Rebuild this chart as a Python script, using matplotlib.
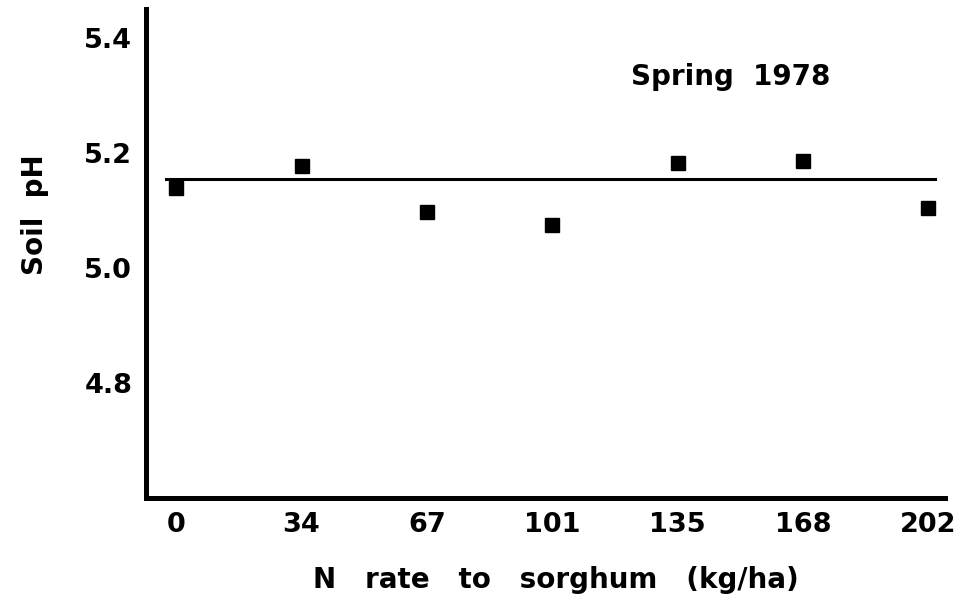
import matplotlib
matplotlib.use('Agg')
import matplotlib.pyplot as plt

n_rates = ['0', '34', '67', '101', '135', '168', '202']
soil_ph = [5.139, 5.177, 5.098, 5.075, 5.183, 5.185, 5.104]
mean_ph = 5.154
y_ticks = [4.8, 5.0, 5.2, 5.4]

plt.rcParams['font.family'] = 'DejaVu Sans'
plt.rcParams['font.weight'] = 'bold'

fig = plt.figure(figsize=(9.61, 6.05), dpi=100)
ax = fig.add_axes([0.152, 0.177, 0.831, 0.808])

xpos = list(range(len(n_rates)))
ax.plot(xpos, soil_ph, linestyle='none', marker='s', markersize=9.5, color='black')
ax.plot([-0.08, 6.05], [mean_ph, mean_ph], color='black', linewidth=2.2)

ax.set_xlim(-0.24, 6.13)
ax.set_ylim(4.6, 5.45)
ax.set_xticks(xpos)
ax.set_xticklabels(n_rates)
ax.set_yticks(y_ticks)
ax.set_yticklabels([f'{v:.1f}' for v in y_ticks])
ax.tick_params(length=0, labelsize=19.5, pad=10)

for side in ['top', 'right']:
    ax.spines[side].set_visible(False)
for side in ['left', 'bottom']:
    ax.spines[side].set_linewidth(3.6)

# axis titles placed in figure coords to match the scan
fig.text(0.578, 0.041, 'N   rate   to   sorghum   (kg/ha)', fontsize=20,
         fontweight='bold', ha='center', va='center')
fig.text(0.036, 0.645, 'Soil  pH', fontsize=20, fontweight='bold',
         rotation=90, ha='center', va='center')
ax.text(4.42, 5.332, 'Spring  1978', fontsize=20, fontweight='bold', ha='center', va='center')

fig.savefig('out.png', dpi=100)
